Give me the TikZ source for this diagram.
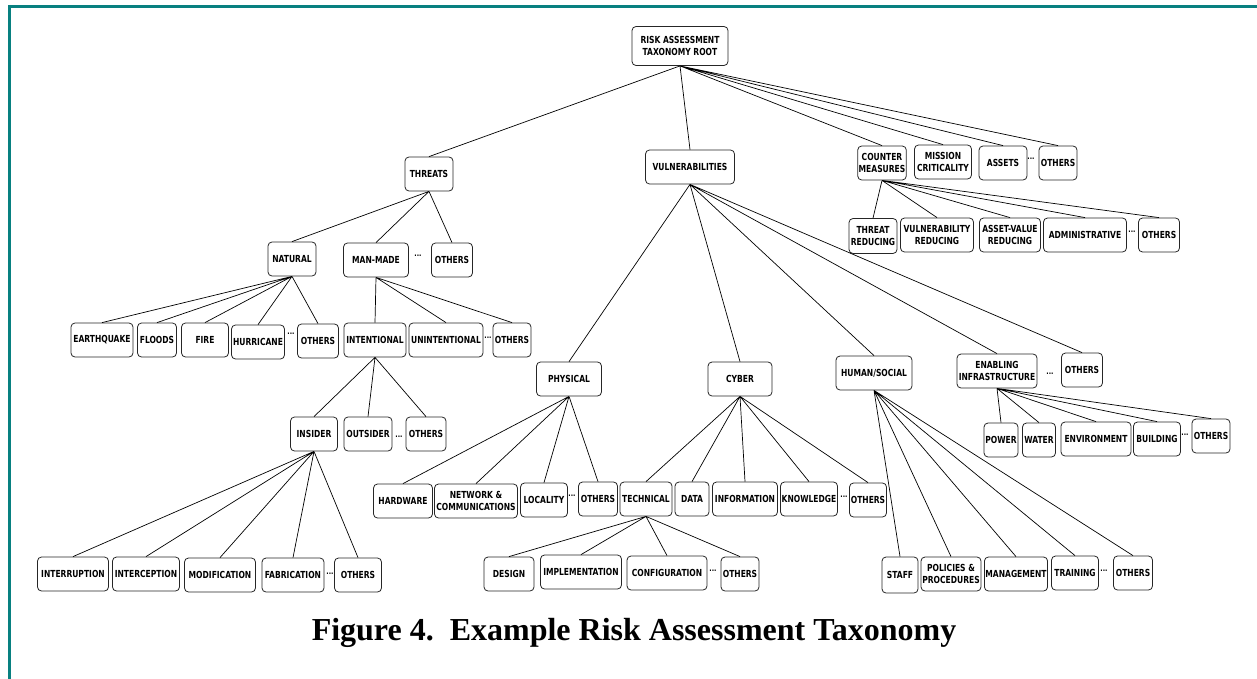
\documentclass[tikz,border=0pt]{standalone}
\usepackage{fontspec}
\usepackage{tikz}
\newfontfamily\boxfont{DejaVu Sans}[FakeStretch=0.78]
\newfontfamily\capfont{Liberation Serif}
\definecolor{framecol}{RGB}{8,128,128}

\begin{document}
\begin{tikzpicture}[x=1pt, y=-1pt,
  tbox/.style={draw=black!85, line width=0.8pt, rounded corners=4pt, align=center,
    minimum width=#1, minimum height=34pt, inner xsep=1pt, inner ysep=1pt,
    font=\boxfont\bfseries\fontsize{9.7}{11.5}\selectfont},
  tdots/.style={inner sep=0pt, font=\boxfont\bfseries\fontsize{8}{8}\selectfont},
  link/.style={line width=0.7pt}]
  \useasboundingbox (0,0) rectangle (1257,679);
  % frame
  \draw[framecol, line width=2.5pt] (8,6.3) -- (1257,6.3);
  \draw[framecol, line width=3pt] (9.5,5) -- (9.5,679);

  % level 0 and 1
  \node[tbox=96pt, minimum height=39pt] (root) at (680,46) {RISK ASSESSMENT\\TAXONOMY ROOT};
  \node[tbox=48pt] (threats) at (429,174) {THREATS};
  \node[tbox=89pt] (vuln) at (690,167) {VULNERABILITIES};
  \node[tbox=48pt] (counter) at (882,163) {COUNTER\\MEASURES};
  \node[tbox=57pt] (mission) at (943,162) {MISSION\\CRITICALITY};
  \node[tbox=48pt] (assets) at (1003,163) {ASSETS};
  \node[tdots] (dots root) at (1031,159) {...};
  \node[tbox=38pt] (root others) at (1058,163) {OTHERS};

  % counter measures
  \node[tbox=48pt, minimum height=35pt] (threat red) at (873,236) {THREAT\\REDUCING};
  \node[tbox=73pt] (vuln red) at (937,235) {VULNERABILITY\\REDUCING};
  \node[tbox=61pt] (asset red) at (1010,235) {ASSET-VALUE\\REDUCING};
  \node[tbox=83pt] (admin) at (1085,235) {ADMINISTRATIVE};
  \node[tdots] (dots cm) at (1132,232) {...};
  \node[tbox=41pt] (cm others) at (1159,235) {OTHERS};

  % threats
  \node[tbox=48pt] (natural) at (292,259) {NATURAL};
  \node[tbox=65pt] (man made) at (376,260) {MAN-MADE};
  \node[tdots] (dots th) at (418,256) {...};
  \node[tbox=41pt] (th others) at (452,260) {OTHERS};

  \node[tbox=62pt] (earthquake) at (102,340) {EARTHQUAKE};
  \node[tbox=39pt] (floods) at (157,340) {FLOODS};
  \node[tbox=47pt] (fire) at (205,340) {FIRE};
  \node[tbox=53pt] (hurricane) at (258,342) {HURRICANE};
  \node[tdots] (dots nat) at (291,334) {...};
  \node[tbox=41pt] (nat others) at (318,341) {OTHERS};

  \node[tbox=62pt] (intentional) at (375,340) {INTENTIONAL};
  \node[tbox=74pt] (unintentional) at (446,340) {UNINTENTIONAL};
  \node[tdots] (dots mm) at (488,338) {...};
  \node[tbox=38pt] (mm others) at (512,340) {OTHERS};

  \node[tbox=47pt] (insider) at (314,434) {INSIDER};
  \node[tbox=48pt] (outsider) at (368,434) {OUTSIDER};
  \node[tdots] (dots int) at (399,437) {...};
  \node[tbox=40pt] (int others) at (426,434) {OTHERS};

  \node[tbox=71pt] (interruption) at (73,574) {INTERRUPTION};
  \node[tbox=67pt] (interception) at (146,574) {INTERCEPTION};
  \node[tbox=71pt] (modification) at (220,575) {MODIFICATION};
  \node[tbox=62pt] (fabrication) at (293,575) {FABRICATION};
  \node[tdots] (dots ins) at (330,574) {...};
  \node[tbox=47pt] (ins others) at (358,575) {OTHERS};

  % vulnerabilities
  \node[tbox=65pt] (physical) at (569,379) {PHYSICAL};
  \node[tbox=64pt] (cyber) at (740,379) {CYBER};
  \node[tbox=76pt] (human) at (874,373) {HUMAN/SOCIAL};
  \node[tbox=80pt] (enabling) at (997,371) {ENABLING\\INFRASTRUCTURE};
  \node[tdots] (dots vul) at (1050,374) {...};
  \node[tbox=41pt] (vul others) at (1082,370) {OTHERS};

  \node[tbox=59pt] (hardware) at (403,501) {HARDWARE};
  \node[tbox=83pt] (network) at (476,501) {NETWORK \&\\COMMUNICATIONS};
  \node[tbox=47pt] (locality) at (544,500) {LOCALITY};
  \node[tdots] (dots phy) at (572,496) {...};
  \node[tbox=39pt] (phy others) at (598,499) {OTHERS};

  \node[tbox=52pt] (technical) at (646,499) {TECHNICAL};
  \node[tbox=34pt] (data) at (692,499) {DATA};
  \node[tbox=65pt] (information) at (745,499) {INFORMATION};
  \node[tbox=57pt] (knowledge) at (809,499) {KNOWLEDGE};
  \node[tdots] (dots cyb) at (844,497) {...};
  \node[tbox=37pt] (cyb others) at (868,500) {OTHERS};

  \node[tbox=50pt] (design) at (509,574) {DESIGN};
  \node[tbox=81pt] (implementation) at (581,572) {IMPLEMENTATION};
  \node[tbox=80pt] (configuration) at (667,573) {CONFIGURATION};
  \node[tdots] (dots tec) at (713,571) {...};
  \node[tbox=38pt] (tec others) at (740,574) {OTHERS};

  \node[tbox=36pt, minimum height=36pt] (staff) at (900,575) {STAFF};
  \node[tbox=60pt] (policies) at (951,574) {POLICIES \&\\PROCEDURES};
  \node[tbox=63pt] (management) at (1016,574) {MANAGEMENT};
  \node[tbox=47pt] (training) at (1075,573) {TRAINING};
  \node[tdots] (dots hum) at (1104,571) {...};
  \node[tbox=39pt] (hum others) at (1133,573) {OTHERS};

  \node[tbox=34pt] (power) at (1001,440) {POWER};
  \node[tbox=33pt] (water) at (1039,440) {WATER};
  \node[tbox=70pt] (environment) at (1096,439) {ENVIRONMENT};
  \node[tbox=47pt] (building) at (1157,439) {BUILDING};
  \node[tdots] (dots ena) at (1185,435) {...};
  \node[tbox=38pt] (ena others) at (1211,436) {OTHERS};

  % connectors
  \draw[link] (root.south) -- (threats.north) (root.south) -- (vuln.north)
    (root.south) -- (counter.north) (root.south) -- (mission.north)
    (root.south) -- (assets.north) (root.south) -- (root others.north);
  \draw[link] (counter.south) -- (threat red.north) (counter.south) -- (vuln red.north)
    (counter.south) -- (asset red.north) (counter.south) -- (admin.north)
    (counter.south) -- (cm others.north);
  \draw[link] (threats.south) -- (natural.north) (threats.south) -- (man made.north)
    (threats.south) -- (th others.north);
  \draw[link] (natural.south) -- (earthquake.north) (natural.south) -- (floods.north)
    (natural.south) -- (fire.north) (natural.south) -- (hurricane.north)
    (natural.south) -- (nat others.north);
  \draw[link] (man made.south) -- (intentional.north) (man made.south) -- (unintentional.north)
    (man made.south) -- (mm others.north);
  \draw[link] (intentional.south) -- (insider.north) (intentional.south) -- (outsider.north)
    (intentional.south) -- (int others.north);
  \draw[link] (insider.south) -- (interruption.north) (insider.south) -- (interception.north)
    (insider.south) -- (modification.north) (insider.south) -- (fabrication.north)
    (insider.south) -- (ins others.north);
  \draw[link] (vuln.south) -- (physical.north) (vuln.south) -- (cyber.north)
    (vuln.south) -- (human.north) (vuln.south) -- (enabling.north)
    (vuln.south) -- (vul others.north);
  \draw[link] (physical.south) -- (hardware.north) (physical.south) -- (network.north)
    (physical.south) -- (locality.north) (physical.south) -- (phy others.north);
  \draw[link] (cyber.south) -- (technical.north) (cyber.south) -- (data.north)
    (cyber.south) -- (information.north) (cyber.south) -- (knowledge.north)
    (cyber.south) -- (cyb others.north);
  \draw[link] (technical.south) -- (design.north) (technical.south) -- (implementation.north)
    (technical.south) -- (configuration.north) (technical.south) -- (tec others.north);
  \draw[link] (human.south) -- (staff.north) (human.south) -- (policies.north)
    (human.south) -- (management.north) (human.south) -- (training.north)
    (human.south) -- (hum others.north);
  \draw[link] (enabling.south) -- (power.north) (enabling.south) -- (water.north)
    (enabling.south) -- (environment.north) (enabling.south) -- (building.north)
    (enabling.south) -- (ena others.north);

  % caption
  \node[anchor=base, inner sep=0pt, font=\capfont\bfseries\fontsize{32}{34}\selectfont]
    (caption) at (634,640) {Figure 4.\ \ Example Risk Assessment Taxonomy};
\end{tikzpicture}
\end{document}
